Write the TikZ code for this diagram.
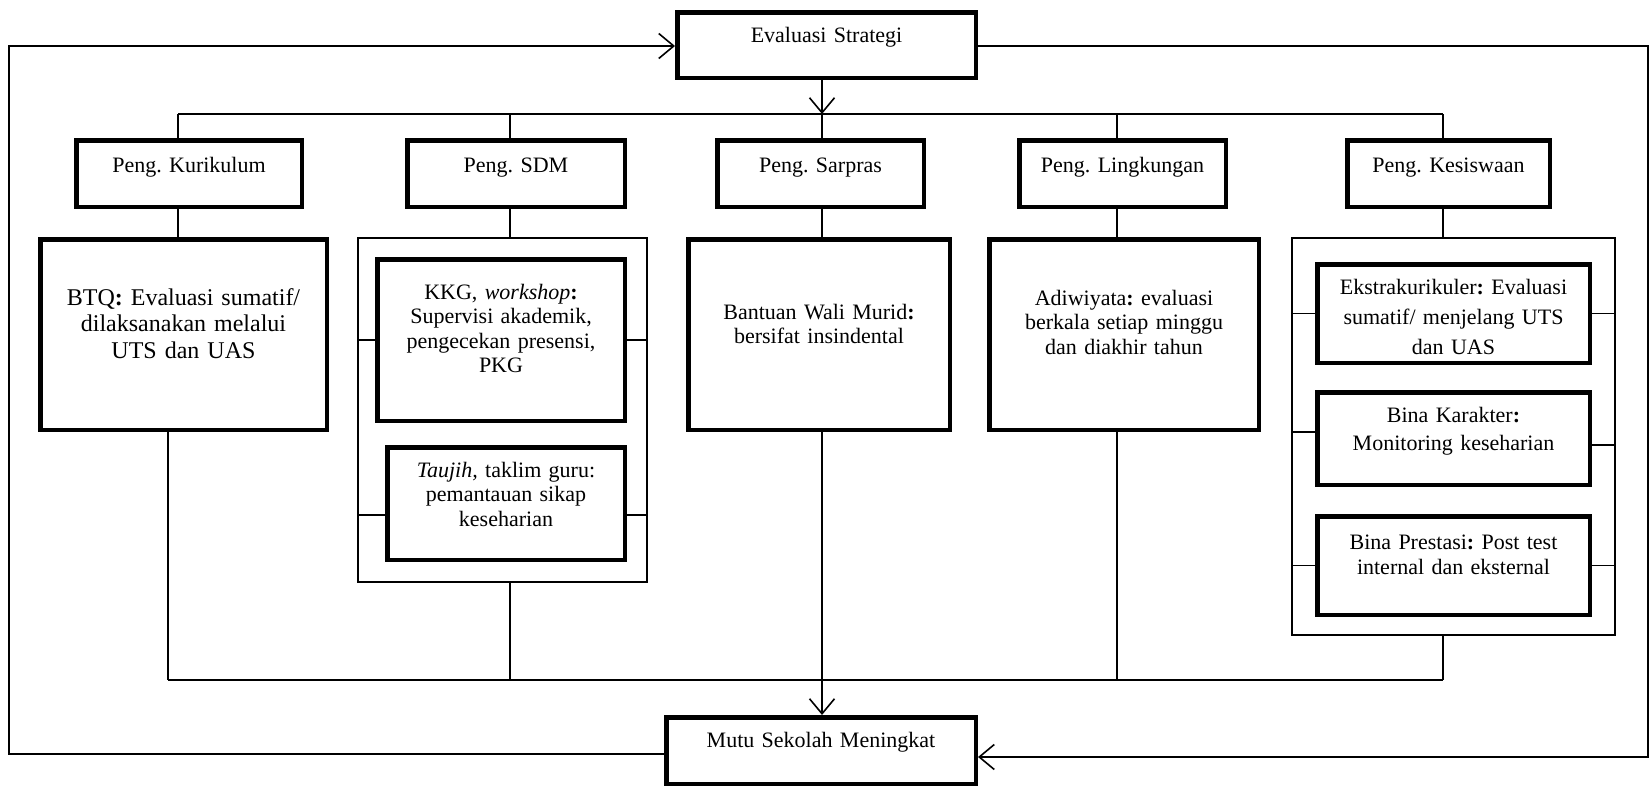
\documentclass[tikz,border=0pt]{standalone}
\usepackage{fontspec}
\setmainfont{Liberation Serif}
\usetikzlibrary{arrows.meta}
\frenchspacing

\begin{document}
\begin{tikzpicture}[x=1pt,y=-1pt,
    thickbox/.style={draw,line width=4.5pt,inner xsep=2pt,inner ysep=0pt,align=center,
        font=\fontsize{22}{24.5}\selectfont},
    peng/.style={thickbox,text height=32pt,text depth=34.5pt},
    thinbox/.style={draw,line width=1.6pt,inner sep=0pt},
    link/.style={line width=1.6pt},
    flow/.style={line width=1.6pt,-{Straight Barb[length=15pt,width=25pt]}}]
    \useasboundingbox (0,0) rectangle (1651,787);

    \node[thickbox,text width=294.5pt,text height=30pt,text depth=35.5pt] (eval) at (826.5,45) {Evaluasi Strategi};
    \node[thickbox,text width=305.5pt,text height=30pt,text depth=36.5pt] (mutu) at (821,750.5) {Mutu Sekolah Meningkat};

    \node[peng,text width=221.5pt] (kur) at (189,173.5)    {Peng. Kurikulum};
    \node[peng,text width=213.5pt] (sdm) at (516,173.5)    {Peng. SDM};
    \node[peng,text width=202.5pt] (sar) at (820.5,173.5)  {Peng. Sarpras};
    \node[peng,text width=202.5pt] (lin) at (1122.5,173.5) {Peng. Lingkungan};
    \node[peng,text width=198.5pt] (kes) at (1448.5,173.5) {Peng. Kesiswaan};

    \node[thickbox,text width=282.5pt,text height=66pt,text depth=124.5pt,font=\fontsize{24}{26.5}\selectfont] (btq) at (183.5,334.5)
        {BTQ\textbf{:} Evaluasi sumatif/\\dilaksanakan melalui\\UTS dan UAS};

    \node[thinbox,minimum width=289.5,minimum height=344.5] (sdmgrp) at (502.5,410) {};
    \node[thickbox,text width=243.5pt,text height=40pt,text depth=121.5pt] (kkg) at (501,340)
        {KKG, \textit{workshop}\textbf{:}\\Supervisi akademik,\\pengecekan presensi,\\PKG};
    \node[thickbox,text width=233.5pt,text height=30pt,text depth=82.5pt] (tau) at (506,503.5)
        {\textit{Taujih,} taklim guru:\\pemantauan sikap\\keseharian};

    \node[thickbox,text width=257.5pt,text height=80pt,text depth=110.5pt] (ban) at (819,334.5)
        {Bantuan Wali Murid\textbf{:}\\bersifat insindental};
    \node[thickbox,text width=265.5pt,text height=66pt,text depth=124.5pt] (adi) at (1124,334.5)
        {Adiwiyata\textbf{:} evaluasi\\berkala setiap minggu\\dan diakhir tahun};

    \node[thinbox,minimum width=323.5,minimum height=397.5] (kesgrp) at (1453.5,436.5) {};
    \node[thickbox,text width=268.5pt,text height=30pt,text depth=68.5pt,font=\fontsize{22}{30}\selectfont] (eks) at (1453.5,313.5)
        {Ekstrakurikuler\textbf{:} Evaluasi\\sumatif/ menjelang UTS\\dan UAS};
    \node[thickbox,text width=268.5pt,text height=30pt,text depth=62.5pt,font=\fontsize{22}{28}\selectfont] (bka) at (1453.5,438.5)
        {Bina Karakter\textbf{:}\\Monitoring keseharian};
    \node[thickbox,text width=268.5pt,text height=33pt,text depth=65.5pt,font=\fontsize{22}{25}\selectfont] (bpr) at (1453.5,565.5)
        {Bina Prestasi\textbf{:} Post test\\internal dan eksternal};

    \coordinate (t1) at (178,114);
    \coordinate (t2) at (510,114);
    \coordinate (t3) at (822,114);
    \coordinate (t4) at (1117,114);
    \coordinate (t5) at (1443,114);
    \coordinate (b1) at (168,680);
    \coordinate (b2) at (510,680);
    \coordinate (b3) at (822,680);
    \coordinate (b4) at (1117,680);
    \coordinate (b5) at (1443,680);
    \coordinate (lt) at (9,46);
    \coordinate (lb) at (9,754);
    \coordinate (rt) at (1648,46);
    \coordinate (rb) at (1648,757);

    \draw[flow] (t3 |- eval.south) -- (t3);
    \draw[link] (t1) -- (t5);
    \foreach \i/\head/\body in {1/kur/btq,2/sdm/sdmgrp,3/sar/ban,4/lin/adi,5/kes/kesgrp} {
        \draw[link] (t\i) -- (t\i |- \head.north);
        \draw[link] (t\i |- \head.south) -- (t\i |- \body.north);
    }

    \draw[link] (kkg.west) -- (kkg.west -| sdmgrp.west);
    \draw[link] (kkg.east) -- (kkg.east -| sdmgrp.east);
    \draw[link] ([yshift=-11.5pt]tau.west) -- ([yshift=-11.5pt]tau.west -| sdmgrp.west);
    \draw[link] ([yshift=-11.5pt]tau.east) -- ([yshift=-11.5pt]tau.east -| sdmgrp.east);
    \draw[link] (eks.west) -- (eks.west -| kesgrp.west);
    \draw[link] (eks.east) -- (eks.east -| kesgrp.east);
    \draw[link] ([yshift=6.5pt]bka.west) -- ([yshift=6.5pt]bka.west -| kesgrp.west);
    \draw[link] ([yshift=-6.5pt]bka.east) -- ([yshift=-6.5pt]bka.east -| kesgrp.east);
    \draw[link] (bpr.west) -- (bpr.west -| kesgrp.west);
    \draw[link] (bpr.east) -- (bpr.east -| kesgrp.east);

    \draw[link] (b1) -- (b5);
    \foreach \i/\body in {1/btq,2/sdmgrp,4/adi,5/kesgrp}
        \draw[link] (b\i |- \body.south) -- (b\i);
    \draw[flow] (b3 |- ban.south) -- (b3 |- mutu.north);

    \draw[flow] (mutu.west |- lb) -- (lb) -- (lt) -- (eval.west |- lt);
    \draw[flow] (eval.east |- rt) -- (rt) -- (rb) -- (mutu.east |- rb);
\end{tikzpicture}
\end{document}
